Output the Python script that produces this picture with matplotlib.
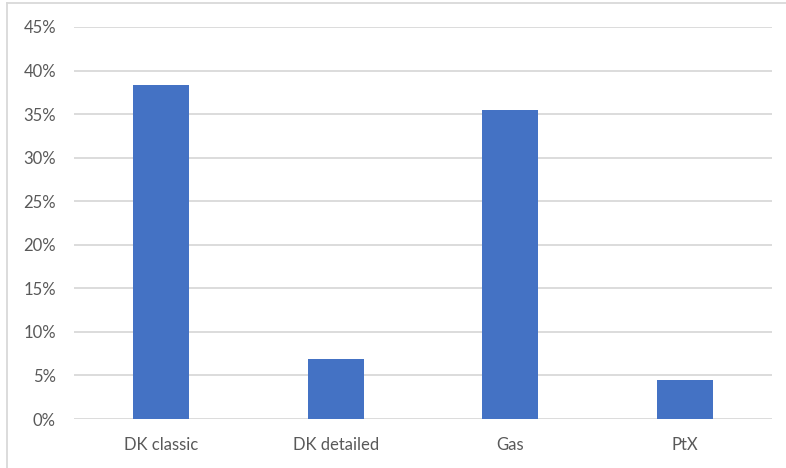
import matplotlib.pyplot as plt
from matplotlib.ticker import PercentFormatter
from matplotlib.lines import Line2D

# data
categories = ["DK classic", "DK detailed", "Gas", "PtX"]
shares = [38.3, 6.9, 35.5, 4.5]
y_ticks = [0, 5, 10, 15, 20, 25, 30, 35, 40, 45]

W, H = 786, 468
fig = plt.figure(figsize=(W / 100, H / 100), dpi=100)
ax = fig.add_axes([74 / W, 1 - 419 / H, (772 - 74) / W, (419 - 27) / H])

x = range(len(categories))
ax.bar(x, shares, width=0.32, color="#4472C4", zorder=3)

ax.set_xlim(-0.5, len(categories) - 0.5)
ax.set_ylim(0, 45)
ax.set_yticks(y_ticks)
ax.yaxis.set_major_formatter(PercentFormatter(decimals=0))
ax.set_xticks(list(x))
ax.set_xticklabels(categories)

ax.grid(axis="y", color="#d9d9d9", linewidth=1.3, zorder=0)
for s in ax.spines.values():
    s.set_visible(False)
ax.tick_params(length=0, labelsize=12, labelcolor="#595959")
ax.tick_params(axis="x", pad=13)
ax.tick_params(axis="y", pad=13)
for lab in ax.get_xticklabels() + ax.get_yticklabels():
    lab.set_fontfamily("Lato")

# chart-area border (only top and left visible in the crop)
fig.add_artist(Line2D([7 / W, 1], [1 - 2.5 / H, 1 - 2.5 / H], color="#d9d9d9", lw=1.3))
fig.add_artist(Line2D([7 / W, 7 / W], [0, 1 - 2.5 / H], color="#d9d9d9", lw=1.3))

fig.savefig("out.png", dpi=100)
